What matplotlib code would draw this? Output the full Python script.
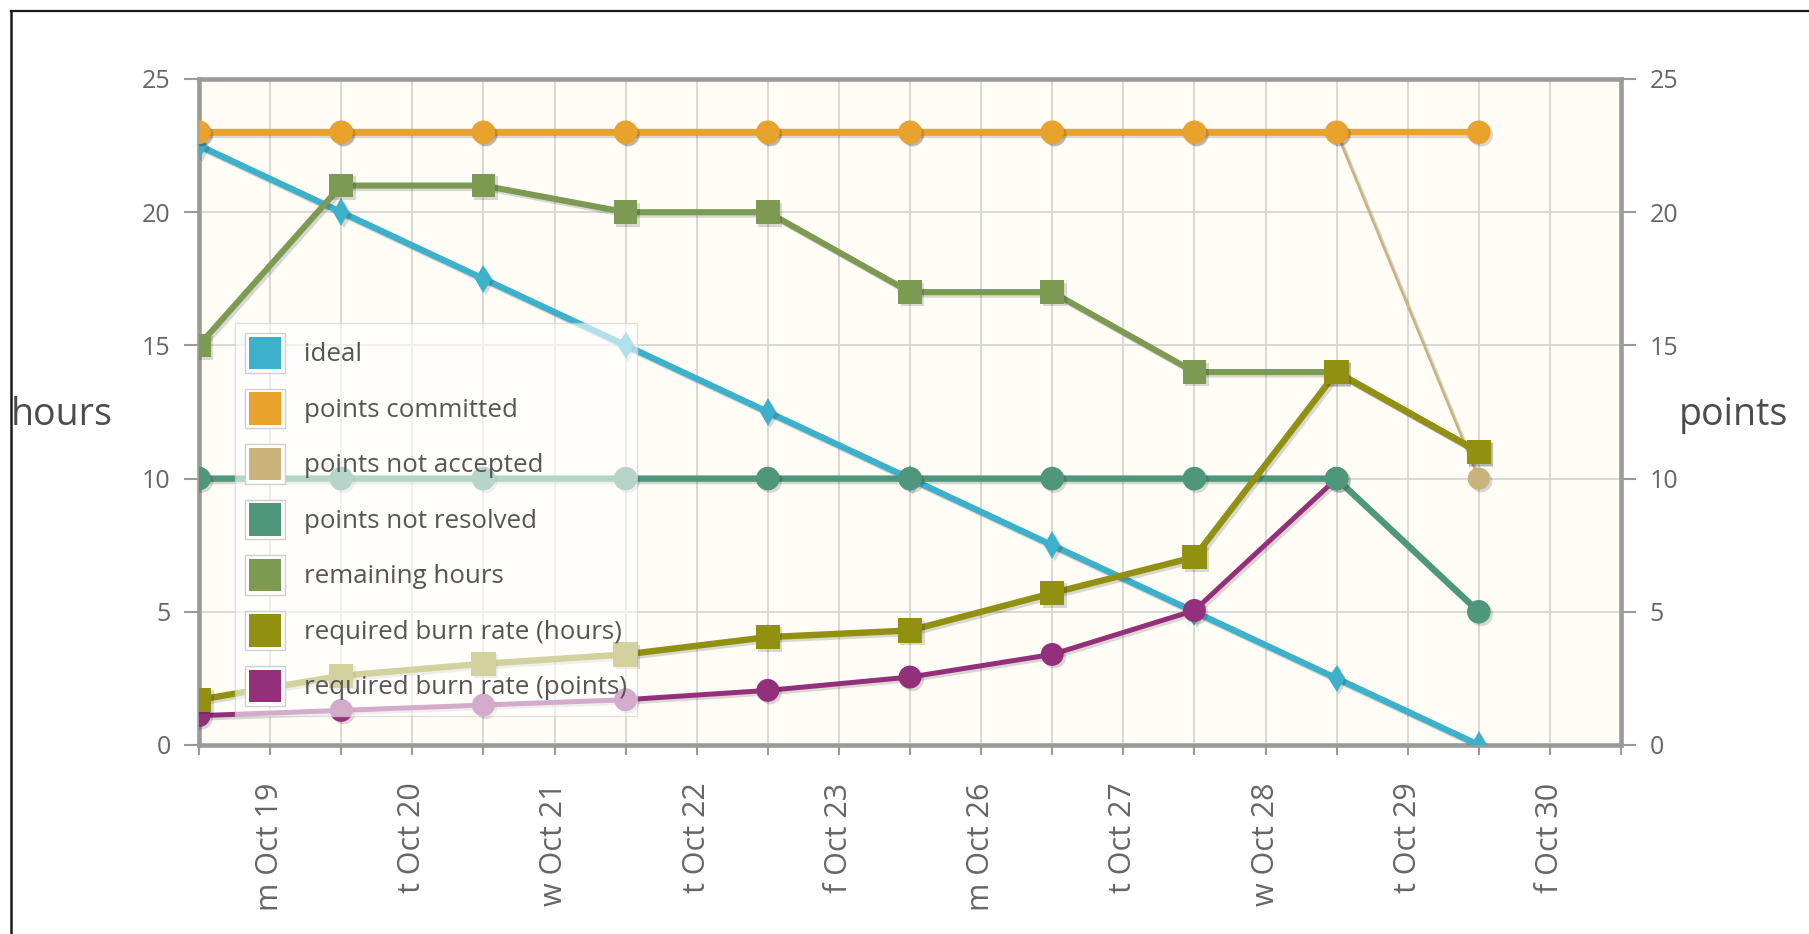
import numpy as np
import matplotlib
matplotlib.use('Agg')
import matplotlib.pyplot as plt
from matplotlib.patches import Patch, Rectangle
from matplotlib.legend_handler import HandlerBase
from matplotlib.lines import Line2D
import matplotlib.patheffects as pe

# ---------------- data ----------------
days = ['m Oct 19', 't Oct 20', 'w Oct 21', 't Oct 22', 'f Oct 23',
        'm Oct 26', 't Oct 27', 'w Oct 28', 't Oct 29', 'f Oct 30']
ideal = [22.5, 20, 17.5, 15, 12.5, 10, 7.5, 5, 2.5, 0]
points_committed = [23, 23, 23, 23, 23, 23, 23, 23, 23, 23]
points_not_accepted = [23, 23, 23, 23, 23, 23, 23, 23, 23, 10]
points_not_resolved = [10, 10, 10, 10, 10, 10, 10, 10, 10, 5]
remaining_hours = [15, 21, 21, 20, 20, 17, 17, 14, 14, 11]
burn_rate_hours = [1.7, 2.6, 3.05, 3.4, 4.05, 4.3, 5.7, 7.05, 14, 11]
burn_rate_points = [1.1, 1.3, 1.5, 1.7, 2.05, 2.55, 3.4, 5.05, 10, np.nan]
y_ticks = [0, 5, 10, 15, 20, 25]

labels = ['ideal', 'points committed', 'points not accepted', 'points not resolved',
          'remaining hours', 'required burn rate (hours)', 'required burn rate (points)']
values = [ideal, points_committed, points_not_accepted, points_not_resolved,
          remaining_hours, burn_rate_hours, burn_rate_points]

# ---------------- styles ----------------
colors = ['#3DB1CC', '#E9A22B', '#C9B27C', '#4E967C', '#7C9A52', '#929010', '#94307B']
markers = ['d', 'o', 'o', 'o', 's', 's', 'o']
msizes = [14, 17, 16, 17, 17, 17.5, 16.5]
lwidths = [4.6, 4.6, 1.8, 4.6, 4.4, 4.6, 3.6]
zorders = [3.0, 3.2, 3.1, 3.4, 3.5, 3.6, 3.3]

W, H = 1809, 934
fig = plt.figure(figsize=(W / 100, H / 100), dpi=100)
fig.patch.set_facecolor('white')

ax = fig.add_axes([199 / W, 1 - 745 / H, (1621 - 199) / W, (745 - 79) / H])
ax.set_facecolor('#FFFDF6')

x = np.arange(len(days))
ax.set_xlim(0, len(days))
ax.set_ylim(min(y_ticks), max(y_ticks))

line_shadow = [pe.SimpleLineShadow(offset=(1.8, -1.8), shadow_color='k', alpha=0.15), pe.Normal()]
mark_shadow = [pe.SimplePatchShadow(offset=(1.8, -1.8), shadow_rgbFace='k', alpha=0.15), pe.Normal()]

for lab, vals, c, m, ms, lw, z in zip(labels, values, colors, markers, msizes, lwidths, zorders):
    ax.plot(x, vals, color=c, lw=lw, solid_capstyle='round', solid_joinstyle='round',
            zorder=z, path_effects=line_shadow)
    ax.plot(x, vals, linestyle='none', marker=m, markersize=ms, color=c,
            markeredgewidth=0, zorder=z + 0.05, path_effects=mark_shadow)

# axes / ticks
ax.set_xticks(x + 0.5)
ax.set_xticklabels(days, rotation=90, fontsize=22, color='#666666', fontfamily='Open Sans')
ax.set_xticks(np.arange(len(days) + 1), minor=True)
ax.set_yticks(y_ticks)
ax.set_yticklabels([str(v) for v in y_ticks], fontsize=18, color='#666666', fontfamily='Open Sans')
ax.tick_params(axis='y', which='major', left=True, right=True, labelleft=True, labelright=True,
               length=10.5, width=1.5, color='#9A9A9A', pad=10)
ax.tick_params(axis='x', which='both', length=7, width=1.5, color='#9A9A9A')
ax.tick_params(axis='x', which='major', pad=20)

ax.grid(axis='y', which='major', color='#D8D8D8', lw=1.4)
ax.grid(axis='x', which='both', color='#D8D8D8', lw=1.4)
ax.set_axisbelow(True)
for s in ax.spines.values():
    s.set_color('#9A9A9A')
    s.set_linewidth(3.3)

# axis titles
fig.text(11 / W, 1 - 425 / H, 'hours', fontsize=27, color='#4C4C4C',
         fontfamily='Open Sans', ha='left', va='baseline')
fig.text(1679 / W, 1 - 425 / H, 'points', fontsize=27, color='#4C4C4C',
         fontfamily='Open Sans', ha='left', va='baseline')


# legend with framed square swatches
class SwatchHandler(HandlerBase):
    def create_artists(self, legend, orig_handle, xdescent, ydescent, width, height, fontsize, trans):
        x0, y0 = -xdescent, -ydescent
        outer = Rectangle((x0, y0), width, height, facecolor='white', edgecolor='#CFCFCF',
                          linewidth=1.0, transform=trans)
        inset = 0.09 * width
        inner = Rectangle((x0 + inset, y0 + inset), width - 2 * inset, height - 2 * inset,
                          facecolor=orig_handle.get_facecolor(), edgecolor='none', transform=trans)
        return [outer, inner]


handles = [Patch(facecolor=c, label=l) for c, l in zip(colors, labels)]
leg = ax.legend(handles=handles, loc='upper left', bbox_to_anchor=(0.0253, 0.6336),
                borderaxespad=0, handler_map={Patch: SwatchHandler()},
                prop={'family': 'Open Sans', 'size': 18.6}, labelcolor='#555555',
                handlelength=1.52, handleheight=1.96, labelspacing=0.63,
                handletextpad=0.74, borderpad=0.4, fancybox=False,
                framealpha=0.6, edgecolor='#CCCCCC', facecolor='white')
leg.get_frame().set_linewidth(1.0)
leg.set_zorder(10)

# outer frame (top and left edges)
fig.add_artist(Line2D([10.5 / W, 1], [1 - 10.5 / H, 1 - 10.5 / H], color='#1A1A1A', lw=1.6))
fig.add_artist(Line2D([11 / W, 11 / W], [0, 1 - 10.5 / H], color='#1A1A1A', lw=1.8))

fig.savefig('out.png', dpi=100, facecolor='white')
